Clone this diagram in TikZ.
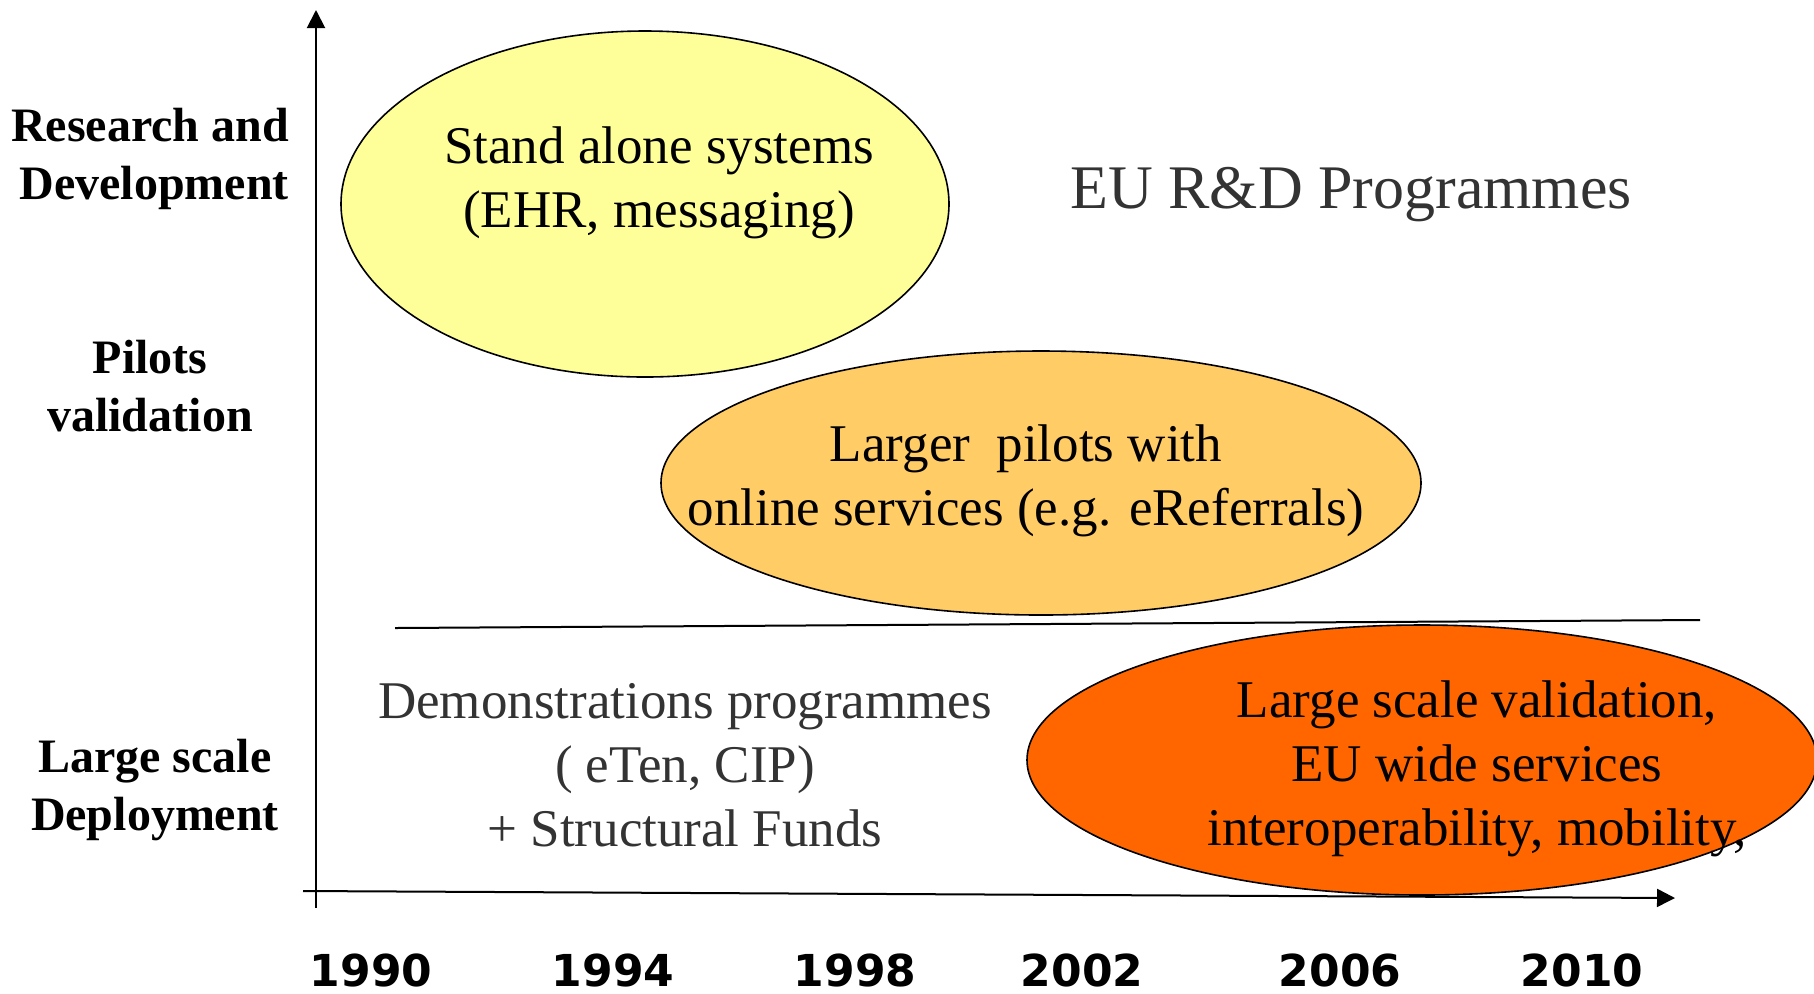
\documentclass[tikz,border=0pt]{standalone}
\usepackage{fontspec}
\setmainfont{Liberation Serif}
\newfontfamily\yearfont{DejaVu Sans}
\usetikzlibrary{shapes.geometric,arrows.meta}
\definecolor{paleyellow}{HTML}{FFFF99}
\definecolor{paleorange}{HTML}{FFCC66}
\definecolor{deeporange}{HTML}{FF6600}
\definecolor{darkgraytext}{HTML}{333333}
\tikzset{
  blob/.style={ellipse, draw, line width=0.8pt, inner sep=0pt},
  phase/.style={font=\bfseries\fontsize{24}{29}\selectfont, align=center},
  body/.style={font=\fontsize{26.5}{32}\selectfont, align=center},
  year/.style={font=\yearfont\bfseries\fontsize{22}{26}\selectfont},
}
\begin{document}
\begin{tikzpicture}[x=0.5pt,y=-0.5pt]
\useasboundingbox (0,0) rectangle (1814,993);
\coordinate (ybot) at (316,908);
\coordinate (ytop) at (316,10);
\coordinate (xl) at (303,891);
\coordinate (xr) at (1675,898);
\coordinate (sepl) at (395,628);
\coordinate (sepr) at (1700,620);
\draw[line width=1pt, -{Triangle[length=9pt,width=9pt]}] (ybot) -- (ytop);
\draw[line width=1pt, -{Triangle[length=9pt,width=9pt]}] (xl) -- (xr);
\draw[line width=1pt] (sepl) -- (sepr);
\node[blob, fill=paleyellow, minimum width=304pt, minimum height=173pt] (standell) at (645,204){};
\node[blob, fill=paleorange, minimum width=380pt, minimum height=132pt] (pilotell) at (1041,483){};
\node[blob, fill=deeporange, minimum width=395pt, minimum height=135pt] (scaleell) at (1422,760){};
\node[body] (stand) at (659,183){Stand alone systems\\(EHR, messaging)};
\node[body] (pilot) at (1026,481){Larger~ pilots with\\online services (e.g. eReferrals)};
\node[body] (scale) at (1477,769){Large scale validation,\\EU wide services\\interoperability, mobility,};
\node[body, text=darkgraytext] (demo) at (685,765){Demonstrations programmes\\( eTen, CIP)\\+ Structural Funds};
\node[font=\fontsize{31}{37}\selectfont, text=darkgraytext] (eurd) at (1351,195){EU R\&D Programmes};
\node[phase, anchor=east, align=right] (rd) at (296,159){Research and\\Development};
\node[phase] (pv) at (150,386){Pilots\\validation};
\node[phase] (lsd) at (155,790){Large scale\\Deployment};
\node[year] (y1990) at (371,970){1990};
\node[year] (y1994) at (613,970){1994};
\node[year] (y1998) at (855,970){1998};
\node[year] (y2002) at (1082,970){2002};
\node[year] (y2006) at (1340,970){2006};
\node[year] (y2010) at (1582,970){2010};
\end{tikzpicture}
\end{document}
